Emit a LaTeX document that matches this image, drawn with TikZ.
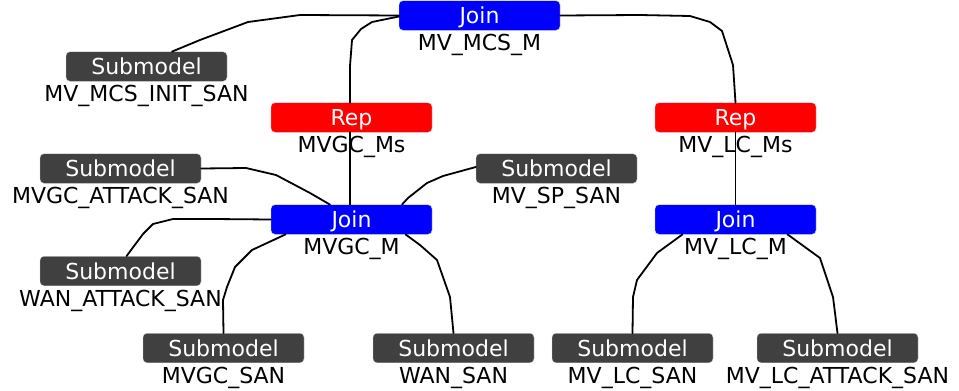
\documentclass[tikz,border=0pt]{standalone}
\usepackage{fontspec}
\setmainfont{DejaVu Sans}
\definecolor{joinblue}{RGB}{0,0,255}
\definecolor{repred}{RGB}{255,0,0}
\definecolor{subgray}{RGB}{64,64,64}
\tikzset{
  blockbox/.style={rounded corners=4pt, minimum width=161pt, minimum height=29.5pt,
    inner sep=0pt, text=white, font=\fontsize{22}{22}\selectfont,
    text height=16pt, text depth=0pt, draw=white!80!black, line width=0.3pt},
  joinbox/.style={blockbox, fill=joinblue},
  repbox/.style={blockbox, fill=repred},
  subbox/.style={blockbox, fill=subgray},
  blocklabel/.style={anchor=base, inner sep=0pt, font=\fontsize{22}{22}\selectfont},
  link/.style={draw=black, line width=1.8pt, line join=round, line cap=round}
}
% \mblock{name}{x}{y}{style}{box text}{label}
\newcommand\mblock[6]{%
  \node[#4] (#1) at (#2,#3) {#5};
  \node[blocklabel] (#1-lbl) at ([yshift=-20.5pt]#1.south) {#6};
}
\begin{document}
\begin{tikzpicture}[x=1pt,y=-1pt]
\useasboundingbox (0,0) rectangle (959,391);
% blocks
\mblock{jtop}{479.5}{15.5}{joinbox}{Join}{MV\_MCS\_M}
\mblock{sinit}{146.5}{66.5}{subbox}{Submodel}{MV\_MCS\_INIT\_SAN}
\mblock{repG}{351.5}{117.5}{repbox}{Rep}{MVGC\_Ms}
\mblock{repL}{735.5}{117.5}{repbox}{Rep}{MV\_LC\_Ms}
\mblock{sMA}{120.5}{168.5}{subbox}{Submodel}{MVGC\_ATTACK\_SAN}
\mblock{sSP}{556.5}{168.5}{subbox}{Submodel}{MV\_SP\_SAN}
\mblock{jG}{351.5}{219.5}{joinbox}{Join}{MVGC\_M}
\mblock{jL}{735.5}{219.5}{joinbox}{Join}{MV\_LC\_M}
\mblock{sWA}{120.5}{271}{subbox}{Submodel}{WAN\_ATTACK\_SAN}
\mblock{sMG}{223.5}{348}{subbox}{Submodel}{MVGC\_SAN}
\mblock{sW}{453.5}{348}{subbox}{Submodel}{WAN\_SAN}
\mblock{sLC}{632.5}{348}{subbox}{Submodel}{MV\_LC\_SAN}
\mblock{sLA}{837.5}{348}{subbox}{Submodel}{MV\_LC\_ATTACK\_SAN}
% connectors
\draw[link] (jtop.west) -- (300,15) -- (248,22) -- (200,40) -- ([xshift=25.5pt]sinit.north);
\draw[link] ([yshift=-1pt]jtop.west) -- (372,22) -- (361,29) -- (352,40) -- (350,66) -- ([xshift=-1.5pt]repG.north);
\draw[link] (jtop.east) -- (640,15) -- (690,16) -- (710,22) -- (722,31) -- (733,65) -- (repL.north);
\draw[link] ([xshift=-1.5pt]repG.south) -- ([xshift=-1.5pt]jG.north);
\draw[link] (repL.south) -- (jL.north);
\draw[link] (sMA.east) -- (246,168) -- (276,175) -- (310,193) -- ([xshift=-21.5pt]jG.north);
\draw[link] ([yshift=1.5pt]sSP.west) -- (443,176) -- (427,183) -- (408,198) -- ([xshift=50.5pt]jG.north);
\draw[link] (jG.west) -- (213,219) -- (173,219) -- (153,224) -- (143,234) -- ([xshift=6pt]sWA.north);
\draw[link] ([xshift=-66pt]jG.south) -- (252,250) -- (235,267) -- (227,287) -- (223,300) -- (sMG.north);
\draw[link] ([xshift=54pt]jG.south) -- (420,245) -- (437,260) -- (450,297) -- (sW.north);
\draw[link] ([xshift=-53pt]jL.south) -- (657,253) -- (637,280) -- (633,297) -- (sLC.north);
\draw[link] ([xshift=52pt]jL.south) -- (820,258) -- (833,297) -- (sLA.north);
\end{tikzpicture}
\end{document}
